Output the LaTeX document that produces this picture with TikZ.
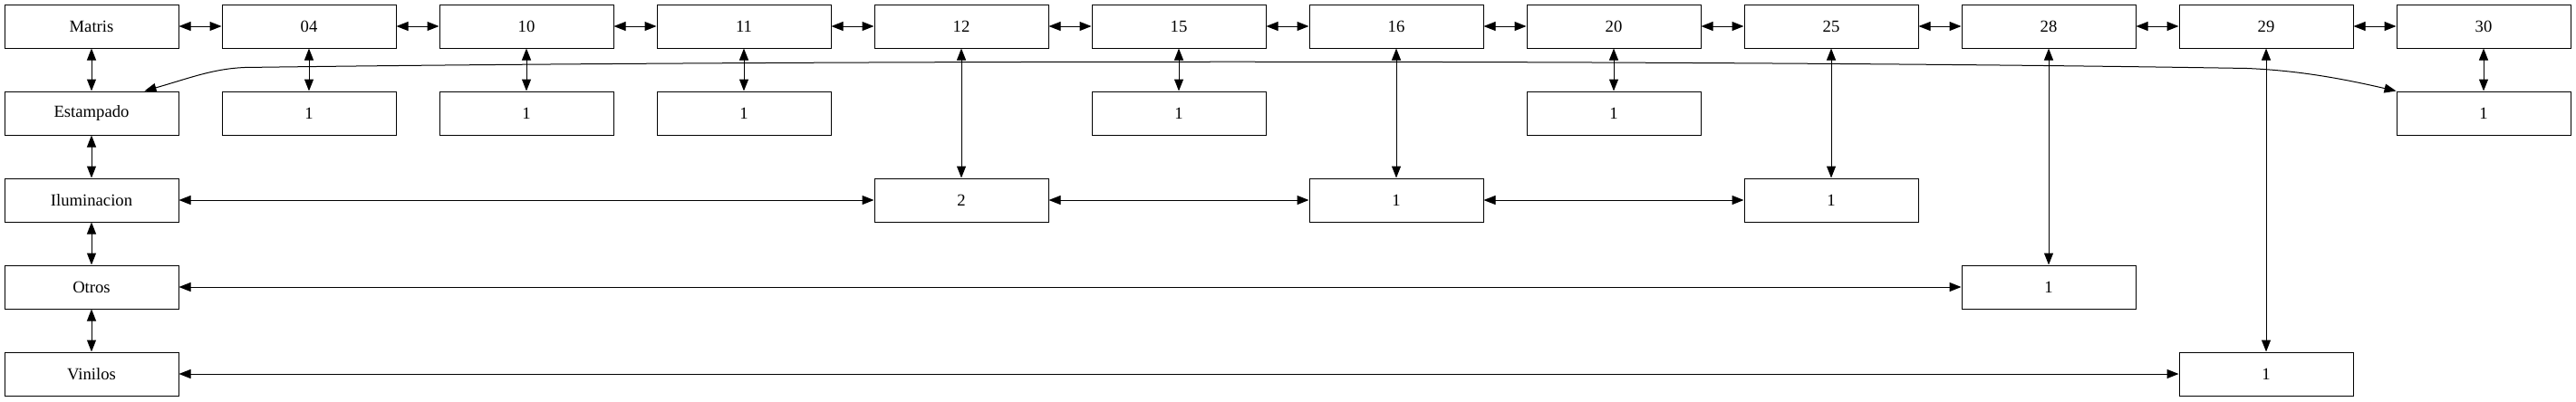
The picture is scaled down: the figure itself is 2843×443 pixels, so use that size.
\documentclass[tikz,border=0pt]{standalone}
\usepackage{fontspec}
\setmainfont{Liberation Serif}
\usetikzlibrary{arrows.meta}

\begin{document}
\begin{tikzpicture}[x=0.75pt,y=-0.75pt]
\tikzstyle{caja} = [draw, line width=0.75pt, minimum width=144pt, minimum height=36pt, inner sep=0pt, font=\fontsize{14}{16}\selectfont]
\tikzstyle{flecha} = [line width=0.75pt, {Triangle[length=9.75pt,width=7.5pt]}-{Triangle[length=9.75pt,width=7.5pt]}]

\useasboundingbox (0,0) rectangle (2843,443);

% fila de meses
\node[caja] (matris) at (101,29) {Matris};
\node[caja] (m04) at (341,29) {04};
\node[caja] (m10) at (581,29) {10};
\node[caja] (m11) at (821,29) {11};
\node[caja] (m12) at (1061,29) {12};
\node[caja] (m15) at (1301,29) {15};
\node[caja] (m16) at (1541,29) {16};
\node[caja] (m20) at (1781,29) {20};
\node[caja] (m25) at (2021,29) {25};
\node[caja] (m28) at (2261,29) {28};
\node[caja] (m29) at (2501,29) {29};
\node[caja] (m30) at (2741,29) {30};

% categorias
\node[caja] (estampado) at (101,125) {Estampado};
\node[caja] (iluminacion) at (101,221) {Iluminacion};
\node[caja] (otros) at (101,317) {Otros};
\node[caja] (vinilos) at (101,413) {Vinilos};

% cantidades
\node[caja] (est04) at (341,125) {1};
\node[caja] (est10) at (581,125) {1};
\node[caja] (est11) at (821,125) {1};
\node[caja] (est15) at (1301,125) {1};
\node[caja] (est20) at (1781,125) {1};
\node[caja] (est30) at (2741,125) {1};
\node[caja] (ilu12) at (1061,221) {2};
\node[caja] (ilu16) at (1541,221) {1};
\node[caja] (ilu25) at (2021,221) {1};
\node[caja] (otr28) at (2261,317) {1};
\node[caja] (vin29) at (2501,413) {1};

% enlaces
\draw[flecha] (matris) -- (m04);
\draw[flecha] (m04) -- (m10);
\draw[flecha] (m10) -- (m11);
\draw[flecha] (m11) -- (m12);
\draw[flecha] (m12) -- (m15);
\draw[flecha] (m15) -- (m16);
\draw[flecha] (m16) -- (m20);
\draw[flecha] (m20) -- (m25);
\draw[flecha] (m25) -- (m28);
\draw[flecha] (m28) -- (m29);
\draw[flecha] (m29) -- (m30);

\draw[flecha] (matris) -- (estampado);
\draw[flecha] (estampado) -- (iluminacion);
\draw[flecha] (iluminacion) -- (otros);
\draw[flecha] (otros) -- (vinilos);

\draw[flecha] (m04) -- (est04);
\draw[flecha] (m10) -- (est10);
\draw[flecha] (m11) -- (est11);
\draw[flecha] (m15) -- (est15);
\draw[flecha] (m20) -- (est20);
\draw[flecha] (m30) -- (est30);
\draw[flecha] (m12) -- (ilu12);
\draw[flecha] (m16) -- (ilu16);
\draw[flecha] (m25) -- (ilu25);
\draw[flecha] (m28) -- (otr28);
\draw[flecha] (m29) -- (vin29);

\draw[flecha] (iluminacion) -- (ilu12);
\draw[flecha] (ilu12) -- (ilu16);
\draw[flecha] (ilu16) -- (ilu25);
\draw[flecha] (otros) -- (otr28);
\draw[flecha] (vinilos) -- (vin29);

\draw[flecha] ([xshift=-28.5pt]estampado.north east) .. controls (210,86) and (235,76) .. (270,74.5)
  .. controls (900,66) and (1900,66) .. (2480,75.5) .. controls (2540,78) and (2590,88) .. (est30.north west);

\end{tikzpicture}
\end{document}
